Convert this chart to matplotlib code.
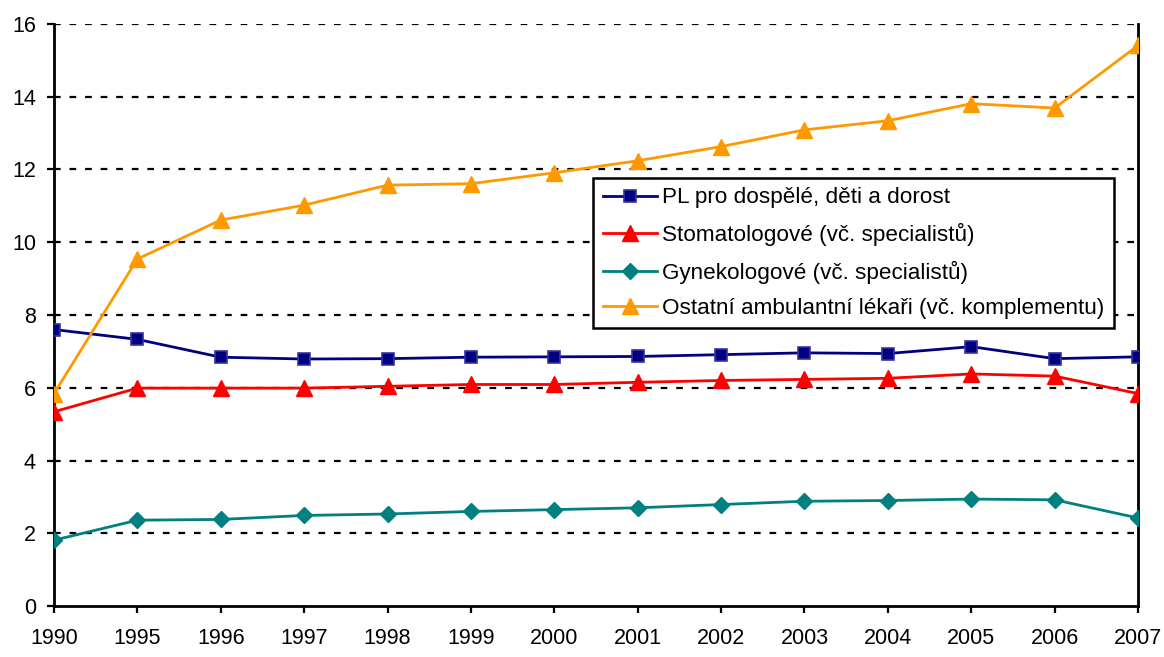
import numpy as np
import matplotlib
matplotlib.use("Agg")
import matplotlib.pyplot as plt

plt.rcParams['font.family'] = ['Liberation Sans', 'DejaVu Sans']

years = ['1990', '1995', '1996', '1997', '1998', '1999', '2000', '2001',
         '2002', '2003', '2004', '2005', '2006', '2007']

pl = [7.60, 7.33, 6.84, 6.79, 6.80, 6.84, 6.85, 6.86, 6.91, 6.96, 6.94, 7.13, 6.80, 6.85]
stomat = [5.34, 5.99, 5.99, 5.99, 6.04, 6.09, 6.09, 6.15, 6.20, 6.23, 6.26, 6.38, 6.32, 5.84]
gyn = [1.81, 2.36, 2.38, 2.49, 2.53, 2.60, 2.65, 2.70, 2.79, 2.88, 2.90, 2.94, 2.92, 2.42]
ostatni = [5.84, 9.54, 10.61, 11.02, 11.57, 11.61, 11.91, 12.24, 12.63, 13.09, 13.34, 13.81, 13.69, 15.41]

labels = ['PL pro dospělé, děti a dorost',
          'Stomatologové (vč. specialistů)',
          'Gynekologové (vč. specialistů)',
          'Ostatní ambulantní lékaři (vč. komplementu)']

fig = plt.figure(figsize=(11.64, 6.57), dpi=100)
ax = fig.add_axes([0.0464, 0.0776, 0.9313, 0.8859])

x = np.arange(len(years))

# gridlines (dashed, black)
for v in range(2, 17, 2):
    ax.axhline(v, color='black', lw=1.6, ls=(0, (3, 4)), zorder=1)

ax.plot(x, pl, color='#000080', lw=2, marker='s', ms=9, mfc='#000080',
        mec='#3333a0', mew=1.2, label=labels[0], zorder=3)
ax.plot(x, stomat, color='#ff0000', lw=2, marker='^', ms=12, mfc='#ff0000',
        mec='#ff0000', label=labels[1], zorder=3)
ax.plot(x, gyn, color='#008080', lw=2, marker='D', ms=8, mfc='#008080',
        mec='#008080', label=labels[2], zorder=3)
ax.plot(x, ostatni, color='#ff9900', lw=2, marker='^', ms=12, mfc='#ff9900',
        mec='#ff9900', label=labels[3], zorder=3)

ax.set_xlim(0, len(years) - 1)
ax.set_ylim(0, 16)
ax.set_xticks(x)
ax.set_xticklabels(years)
ax.set_yticks(range(0, 17, 2))
ax.tick_params(axis='both', direction='out', length=5, width=1.6,
               labelsize=15.5, colors='black')
ax.tick_params(axis='x', pad=11)
ax.tick_params(axis='y', pad=8)

ax.spines['top'].set_visible(False)
for s in ['left', 'bottom', 'right']:
    ax.spines[s].set_linewidth(2)
    ax.spines[s].set_color('black')

leg = ax.legend(loc='upper left', bbox_to_anchor=(0.5095, 0.729),
                bbox_transform=fig.transFigure, fontsize=16.2, frameon=True,
                fancybox=False, framealpha=1, edgecolor='black',
                handlelength=2.4, handletextpad=0.25, borderpad=0.42,
                labelspacing=0.64, borderaxespad=0)
leg.get_frame().set_linewidth(1.8)
leg.set_zorder(5)

fig.savefig('out.png', dpi=100)
